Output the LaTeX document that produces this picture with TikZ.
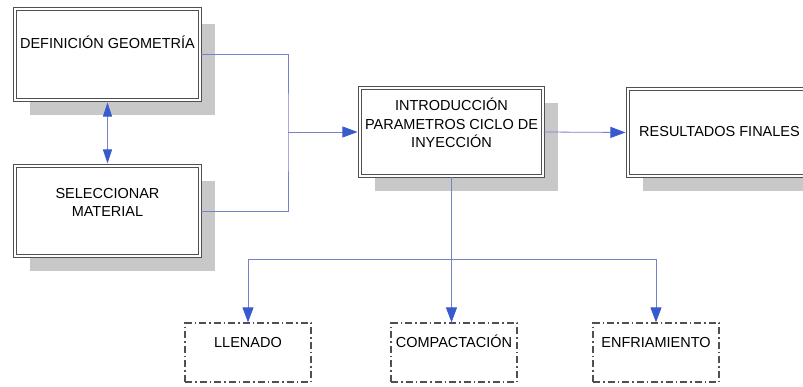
\documentclass[tikz,border=0pt]{standalone}
\usepackage{fontspec}
\setmainfont{Liberation Sans}
\usetikzlibrary{arrows.meta,shadows}

\definecolor{framegray}{RGB}{80,80,80}
\definecolor{shadowgray}{RGB}{200,200,200}
\definecolor{linkblue}{RGB}{120,128,200}
\definecolor{tipblue}{RGB}{55,90,205}

\tikzset{
  mainbox/.style={draw=framegray, line width=1.1pt, double=white, double distance=1.4pt,
    fill=white, minimum width=185pt, minimum height=90pt, inner sep=0pt, align=center,
    drop shadow={shadow xshift=15pt, shadow yshift=-15pt, fill=shadowgray, opacity=1}},
  stagebox/.style={draw=framegray, line width=1.2pt,
    dash pattern=on 7pt off 3pt on 1.5pt off 3pt,
    minimum width=126pt, minimum height=59pt, inner sep=0pt, align=center},
  link/.style={draw=linkblue, line width=0.8pt},
  tip/.style={-{Triangle[length=15pt,width=11pt,color=tipblue]}}
}

\begin{document}
\begin{tikzpicture}[x=1pt, y=-1pt, font=\fontsize{14.5}{18.4}\selectfont]
\useasboundingbox (0,0) rectangle (803,387);

% main blocks
\node [mainbox, minimum height=91pt, text height=10.4pt, text depth=23pt] (geom) at (107.5,54.5) {DEFINICIÓN GEOMETRÍA};
\node [mainbox, text height=11.4pt, text depth=0pt] (mat) at (107.5,211) {SELECCIONAR\\MATERIAL};
\node [mainbox, minimum width=183pt, minimum height=88pt, text height=31pt, text depth=0pt] (intro) at (451.5,132) {INTRODUCCIÓN\\PARAMETROS CICLO DE\\INYECCIÓN};
\node [mainbox, minimum width=183pt, minimum height=87pt, text height=10.4pt, text depth=2pt] (result) at (719.5,132.5) {RESULTADOS FINALES};

% stages
\node [stagebox, text height=10.4pt, text depth=20pt] (fill) at (248,352.5) {LLENADO};
\node [stagebox, text height=10.4pt, text depth=20pt] (pack) at (454,352.5) {COMPACTACIÓN};
\node [stagebox, text height=10.4pt, text depth=20pt] (cool) at (656,352.5) {ENFRIAMIENTO};

\coordinate (join) at (288,132);
\coordinate (bus) at (451.5,259);

% connectors
\draw [link, {Triangle[length=14pt,width=9pt,color=tipblue]}-{Triangle[length=14pt,width=9pt,color=tipblue]}, shorten <=2pt, shorten >=2pt] (geom.south) -- (mat.north);
\draw [link] (geom.east) -| (join) |- (mat.east);
\draw [link, tip, shorten >=2pt] (join) -- (intro.west);
\draw [link, tip, shorten >=2pt] (intro.east) -- (result.west);
\draw [link] (intro.south) -- (bus);
\draw [link, tip] (bus) -| (fill.north);
\draw [link, tip] (bus) -- (bus |- pack.north);
\draw [link, tip] (bus) -| (cool.north);
\end{tikzpicture}
\end{document}
